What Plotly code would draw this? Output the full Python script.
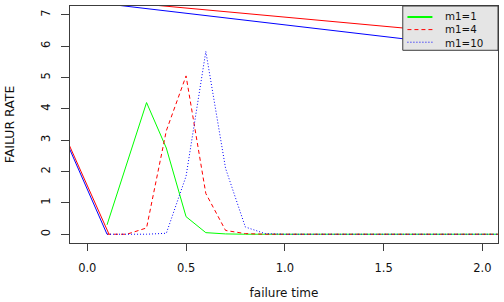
import plotly.graph_objects as go

# failure time grid for the three m1 curves
t = [0.1, 0.2, 0.3, 0.4, 0.5, 0.6, 0.7, 0.8, 0.9, 1.0, 1.1, 1.2, 1.3, 1.4,
     1.5, 1.6, 1.7, 1.8, 1.9, 2.0, 2.1, 2.2]
rate_m1_1 = [0.3, 2.25, 4.2, 2.75, 0.56, 0.05, 0.01, 0.0, 0.0, 0.0, 0.0, 0.0,
             0.0, 0.0, 0.0, 0.0, 0.0, 0.0, 0.0, 0.0, 0.0, 0.0]
rate_m1_4 = [0.0, 0.0, 0.2, 3.3, 5.05, 1.3, 0.12, 0.02, 0.0, 0.0, 0.0, 0.0,
             0.0, 0.0, 0.0, 0.0, 0.0, 0.0, 0.0, 0.0, 0.0, 0.0]
rate_m1_10 = [0.0, 0.0, 0.0, 0.03, 1.85, 5.83, 2.1, 0.23, 0.02, 0.0, 0.0, 0.0,
              0.0, 0.0, 0.0, 0.0, 0.0, 0.0, 0.0, 0.0, 0.0, 0.0]

# extra solid reference curves (run partly outside the plotting region)
red_solid_x = [2.2, -0.44, 0.11]
red_solid_y = [6.23, 7.76, 0.0]
blue_solid_x = [2.2, -0.44, 0.10]
blue_solid_y = [5.79, 7.745, 0.0]

legend_labels = ["m1=1", "m1=4", "m1=10"]
x_ticks = [0.0, 0.5, 1.0, 1.5, 2.0]
x_tick_text = ["0.0", "0.5", "1.0", "1.5", "2.0"]
y_ticks = [0, 1, 2, 3, 4, 5, 6, 7]

GREEN, RED, BLUE = "#00FF00", "#FF0000", "#0000FF"
FONT = "DejaVu Sans"
AX = "#3c3c3c"
DASH = "4px,3px"
DOT = "1px,2px"

fig = go.Figure()
fig.add_trace(go.Scatter(x=red_solid_x, y=red_solid_y, mode="lines",
                         line=dict(color=RED, width=1), showlegend=False, hoverinfo="skip"))
fig.add_trace(go.Scatter(x=blue_solid_x, y=blue_solid_y, mode="lines",
                         line=dict(color=BLUE, width=1), showlegend=False, hoverinfo="skip"))
fig.add_trace(go.Scatter(x=t, y=rate_m1_1, mode="lines", name=legend_labels[0],
                         line=dict(color=GREEN, width=1), showlegend=False))
fig.add_trace(go.Scatter(x=t, y=rate_m1_4, mode="lines", name=legend_labels[1],
                         line=dict(color=RED, width=1, dash=DASH), showlegend=False))
fig.add_trace(go.Scatter(x=t, y=rate_m1_10, mode="lines", name=legend_labels[2],
                         line=dict(color=BLUE, width=1, dash=DOT), showlegend=False))

# legend drawn R-style: grey box in the top-right corner
lx0, lx1, ly0, ly1 = 0.7775, 1.0, 0.8131, 1.0
fig.add_shape(type="rect", xref="paper", yref="paper", x0=lx0, x1=lx1, y0=ly0, y1=ly1,
              fillcolor="#E5E5E5", line=dict(color=AX, width=1), layer="above")
rows = [0.9535, 0.9004, 0.8472]
styles = [(GREEN, "solid", 2), (RED, DASH, 1), (BLUE, DOT, 1)]
for (c, d, w), yy in zip(styles, rows):
    fig.add_shape(type="line", xref="paper", yref="paper", x0=0.7884, x1=0.8468,
                  y0=yy, y1=yy, line=dict(color=c, width=w, dash=d), layer="above")
fig.add_annotation(xref="paper", yref="paper", x=0.8747, y=(rows[0] + rows[2]) / 2,
                   text="<br>".join(legend_labels), align="left",
                   showarrow=False, xanchor="left", yanchor="middle", borderpad=0,
                   font=dict(family=FONT, size=10.3, color="#111"))

fig.update_layout(
    width=504, height=302,
    margin=dict(l=70, r=5.3, t=4.5, b=50.3),
    paper_bgcolor="white", plot_bgcolor="white",
    font=dict(family=FONT, size=11.5, color="#111"),
    showlegend=False,
)
fig.update_xaxes(range=[-0.0875, 2.079], tickvals=x_ticks, ticktext=x_tick_text,
                 showgrid=False, zeroline=False, showline=True, mirror=True,
                 linecolor=AX, linewidth=1, ticks="outside", ticklen=7, tickcolor=AX,
                 ticklabelstandoff=7,
                 title=dict(text="failure time", standoff=14, font=dict(size=12)))
fig.update_yaxes(range=[-0.28, 7.28], tickvals=y_ticks, tickangle=-90,
                 showgrid=False, zeroline=False, showline=True, mirror=True,
                 linecolor=AX, linewidth=1, ticks="outside", ticklen=8, tickcolor=AX,
                 ticklabelstandoff=6,
                 title=dict(text="FAILUR RATE", standoff=22, font=dict(size=12.5)))

fig.write_html("out.html")
